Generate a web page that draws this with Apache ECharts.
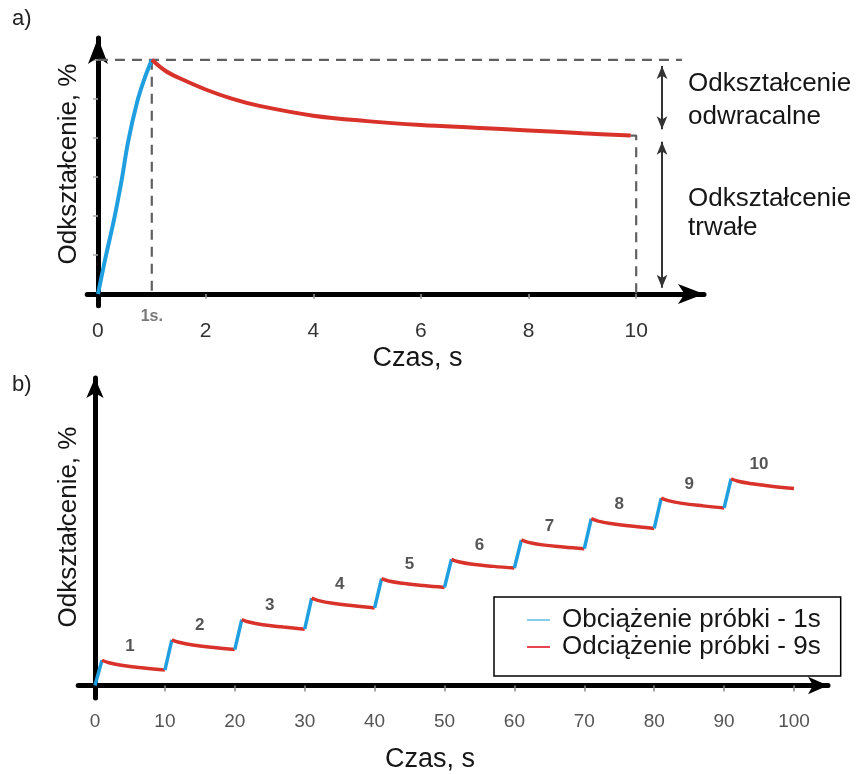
<!DOCTYPE html>
<html>
<head>
<meta charset="utf-8">
<script src="https://cdn.jsdelivr.net/npm/echarts@6/dist/echarts.min.js"></script>
<style>
  html, body { margin: 0; padding: 0; background: #fff; }
  #chart { width: 856px; height: 774px; }
</style>
</head>
<body>
<div id="chart"></div>
<script>
// ---------- (a) one load / unload cycle ----------
const loadTimeA     = [0, 0.14, 0.30, 0.44, 0.56, 0.73, 0.86, 1];
const loadStrainA   = [0, 0.93, 1.92, 2.92, 3.90, 4.93, 5.50, 6.00];
const unloadTimeA   = [1, 1.25, 1.5, 2, 2.5, 3, 4, 5, 6, 7, 8, 9, 9.9];
const unloadStrainA = [6.00, 5.72, 5.54, 5.24, 5.00, 4.82, 4.57, 4.43, 4.33, 4.26, 4.19, 4.12, 4.06];
const timeLabelsA   = [0, 2, 4, 6, 8, 10];
const timeTicksA    = [2, 4, 6, 8, 10];
const strainTicksA  = [1, 2, 3, 4, 5, 6];
const testEndA      = 10;   // end of the observation, s

// ---------- (b) ten repeated cycles ----------
const cycleLabels   = ['1', '2', '3', '4', '5', '6', '7', '8', '9', '10'];
const cycleStart    = [0, 10, 20, 30, 40, 50, 60, 70, 80, 90];
const loadDuration  = 1;                   // s
const unloadOffsets = [1, 2, 4, 7, 10];    // s from the start of each cycle
const unloadStrainB = [
  [1.21, 1.09, 0.96, 0.84, 0.74],
  [2.19, 2.07, 1.94, 1.82, 1.72],
  [3.16, 3.04, 2.91, 2.80, 2.70],
  [4.19, 4.07, 3.94, 3.82, 3.72],
  [5.12, 5.01, 4.90, 4.79, 4.70],
  [6.05, 5.93, 5.81, 5.71, 5.63],
  [6.98, 6.86, 6.74, 6.64, 6.56],
  [8.00, 7.88, 7.75, 7.63, 7.53],
  [8.98, 8.86, 8.73, 8.61, 8.51],
  [9.91, 9.79, 9.67, 9.54, 9.44]
];
const initialStrainB = 0;
const timeLabelsB = [0, 10, 20, 30, 40, 50, 60, 70, 80, 90, 100];
const timeTicksB  = [10, 20, 30, 40, 50, 60, 70, 80, 90, 100];

const LOAD_NAME   = 'Obciążenie próbki - 1s';
const UNLOAD_NAME = 'Odciążenie próbki - 9s';
const STRAIN_NAME = 'Odkształcenie, %';

// ---------- styling ----------
const FONT = "'Liberation Sans', Arial, sans-serif";
const BLUE = '#1f9fe0';
const RED  = '#d8322b';
const TEXT = '#161616';

const zip = (xs, ys) => xs.map((x, i) => [x, ys[i]]);

const peakA = loadStrainA[loadStrainA.length - 1];
const endA  = unloadStrainA[unloadStrainA.length - 1];
const endTA = unloadTimeA[unloadTimeA.length - 1];

// dashed guides & dimension arrows of panel (a)
const guideStyle = { color: '#606060', width: 2.2, type: [10, 7] };
const arrowX   = 10.48;          // x position of the dimension arrows
const guideEnd = 10.85;          // how far the peak guide runs
const arrowPad = 0.16;           // keeps arrow tips on their guide lines

const series = [
  // panel (a)
  { type: 'line', name: 'a-load', xAxisIndex: 0, yAxisIndex: 0,
    data: zip(loadTimeA, loadStrainA), smooth: 0.35, showSymbol: false, silent: true,
    lineStyle: { color: BLUE, width: 4 }, z: 3 },
  { type: 'line', name: 'a-unload', xAxisIndex: 0, yAxisIndex: 0,
    data: zip(unloadTimeA, unloadStrainA), smooth: 0.35, showSymbol: false, silent: true,
    lineStyle: { color: RED, width: 4 }, z: 3 },
  { type: 'line', name: 'a-guide-peak', xAxisIndex: 0, yAxisIndex: 0,
    data: [[0, peakA], [guideEnd, peakA]], showSymbol: false, silent: true,
    lineStyle: guideStyle, z: 2,
    markLine: {
      silent: true, symbol: ['arrow', 'arrow'], symbolSize: [8, 13],
      lineStyle: { color: '#333', width: 2, type: 'solid' },
      label: { show: false },
      data: [
        [{ coord: [arrowX, peakA - arrowPad] }, { coord: [arrowX, endA + arrowPad] }],
        [{ coord: [arrowX, endA - arrowPad] }, { coord: [arrowX, 0 + arrowPad] }]
      ]
    } },
  { type: 'line', name: 'a-guide-load', xAxisIndex: 0, yAxisIndex: 0,
    data: [[loadDuration, peakA], [loadDuration, 0]], showSymbol: false, silent: true,
    lineStyle: guideStyle, z: 2 },
  { type: 'line', name: 'a-guide-end', xAxisIndex: 0, yAxisIndex: 0,
    data: [[endTA, endA], [testEndA, endA], [testEndA, 0]], showSymbol: false, silent: true,
    lineStyle: guideStyle, z: 2 },
  { type: 'scatter', name: 'a-load-mark', xAxisIndex: 0, yAxisIndex: 0,
    data: [[loadDuration, 0]], symbolSize: 1, itemStyle: { color: 'transparent' }, silent: true,
    label: { show: true, position: 'bottom', distance: 14, formatter: loadDuration + 's.',
             fontFamily: FONT, fontSize: 16, fontWeight: 'bold', color: '#555' } }
];

// panel (b): loading (blue) and unloading (red) pieces of every cycle
cycleStart.forEach((t0, i) => {
  const prev = i === 0 ? initialStrainB : unloadStrainB[i - 1][unloadOffsets.length - 1];
  series.push({
    type: 'line', name: LOAD_NAME, xAxisIndex: 1, yAxisIndex: 1,
    data: [[t0, prev], [t0 + loadDuration, unloadStrainB[i][0]]],
    showSymbol: false, silent: true, lineStyle: { color: BLUE, width: 3.5 }, itemStyle: { color: BLUE }
  });
  series.push({
    type: 'line', name: UNLOAD_NAME, xAxisIndex: 1, yAxisIndex: 1,
    data: unloadOffsets.map((o, k) => [t0 + o, unloadStrainB[i][k]]),
    smooth: 0.4, showSymbol: false, silent: true, lineStyle: { color: RED, width: 3.5 }, itemStyle: { color: RED }
  });
});

// cycle numbers above each step
series.push({
  type: 'scatter', name: 'b-cycle-numbers', xAxisIndex: 1, yAxisIndex: 1,
  data: cycleStart.map((t0, i) => [t0 + 5, unloadStrainB[i][0], cycleLabels[i]]),
  symbolSize: 1, itemStyle: { color: 'transparent' }, silent: true,
  label: { show: true, position: 'top', distance: 5,
           formatter: p => p.data[2],
           fontFamily: FONT, fontSize: 17, fontWeight: 'bold', color: '#2a2a2a' }
});

const axisLineA = { onZero: true, symbol: ['none', 'arrow'], symbolSize: [15, 26],
                    lineStyle: { color: '#000', width: 5 } };
const axisLineB = { onZero: true, symbol: ['none', 'arrow'], symbolSize: [13, 20],
                    lineStyle: { color: '#000', width: 5 } };

const yNameStyle = { text: STRAIN_NAME, font: '26px ' + FONT, fill: TEXT, align: 'center', verticalAlign: 'middle' };

const option = {
  animation: false,
  backgroundColor: '#fff',
  textStyle: { fontFamily: FONT },
  grid: [
    { left: 87.2, right: 152, top: 38, bottom: 468.3 },
    { left: 78.2, right: 28, top: 378, bottom: 66.1 }
  ],
  xAxis: [
    { type: 'value', gridIndex: 0, min: -0.2, max: 11.26,
      axisLine: axisLineA,
      axisTick: { show: true, customValues: timeTicksA, length: 5, lineStyle: { color: '#999', width: 1.5 } },
      axisLabel: { customValues: timeLabelsA, margin: 15, fontSize: 21, color: '#333', fontFamily: FONT },
      splitLine: { show: false },
      name: 'Czas, s', nameLocation: 'middle', nameGap: 39,
      nameTextStyle: { fontSize: 27, color: TEXT, fontFamily: FONT, padding: [0, 0, 0, 44] } },
    { type: 'value', gridIndex: 1, min: -2.4, max: 104.86,
      axisLine: axisLineB,
      axisTick: { show: true, customValues: timeTicksB, length: 6, lineStyle: { color: '#888', width: 1.5 } },
      axisLabel: { customValues: timeLabelsB, margin: 14, fontSize: 19, color: '#555', fontFamily: FONT },
      splitLine: { show: false },
      name: 'Czas, s', nameLocation: 'middle', nameGap: 48,
      nameTextStyle: { fontSize: 27, color: TEXT, fontFamily: FONT, padding: [0, 46, 0, 0] } }
  ],
  yAxis: [
    { type: 'value', gridIndex: 0, min: -0.3, max: 6.56,
      axisLine: axisLineA,
      axisTick: { show: true, customValues: strainTicksA, length: 5, lineStyle: { color: '#aaa', width: 1.5 } },
      axisLabel: { show: false },
      splitLine: { show: false } },
    { type: 'value', gridIndex: 1, min: -0.6, max: 14.74,
      axisLine: axisLineB,
      axisTick: { show: false },
      axisLabel: { show: false },
      splitLine: { show: false } }
  ],
  legend: {
    orient: 'vertical', left: 494, top: 597,
    padding: [10, 20, 16, 33],
    borderColor: '#000', borderWidth: 1.5, borderRadius: 0, backgroundColor: '#fff',
    icon: 'rect', itemWidth: 23, itemHeight: 2, itemGap: 1,
    selectedMode: false,
    textStyle: { fontSize: 26, lineHeight: 26, color: TEXT, fontFamily: FONT, padding: [0, 0, 0, 7] },
    data: [
      { name: LOAD_NAME, itemStyle: { color: '#86cdea' } },
      { name: UNLOAD_NAME, itemStyle: { color: '#e8434f' } }
    ]
  },
  graphic: [
    { type: 'text', left: 12, top: 8, style: { text: 'a)', font: '22px ' + FONT, fill: '#222' } },
    { type: 'text', left: 12, top: 374, style: { text: 'b)', font: '22px ' + FONT, fill: '#222' } },
    { type: 'text', x: 69, y: 164, rotation: Math.PI / 2, style: yNameStyle },
    { type: 'text', x: 69, y: 527, rotation: Math.PI / 2, style: yNameStyle },
    { type: 'text', x: 688, y: 84, style: { text: 'Odkształcenie', font: '26px ' + FONT, fill: TEXT, verticalAlign: 'middle' } },
    { type: 'text', x: 688, y: 117, style: { text: 'odwracalne', font: '26px ' + FONT, fill: TEXT, verticalAlign: 'middle' } },
    { type: 'text', x: 688, y: 199, style: { text: 'Odkształcenie', font: '26px ' + FONT, fill: TEXT, verticalAlign: 'middle' } },
    { type: 'text', x: 688, y: 228, style: { text: 'trwałe', font: '26px ' + FONT, fill: TEXT, verticalAlign: 'middle' } }
  ],
  series: series
};

const chart = echarts.init(document.getElementById('chart'), null, { renderer: 'canvas' });
chart.setOption(option);
</script>
</body>
</html>
